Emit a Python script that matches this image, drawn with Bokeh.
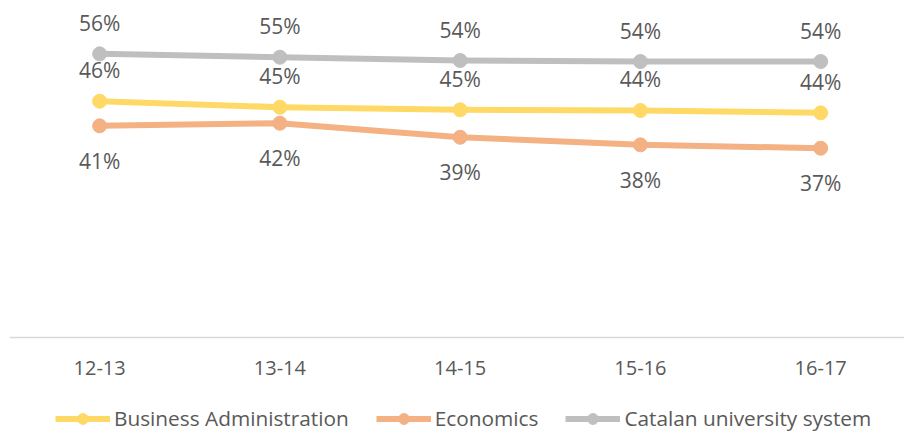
from bokeh.plotting import figure
from bokeh.models import Range1d, FixedTicker, Legend, ColumnDataSource
from bokeh.embed import file_html
from bokeh.resources import INLINE

categories = ["12-13", "13-14", "14-15", "15-16", "16-17"]
business_admin = [46.28, 45.10, 44.59, 44.46, 44.00]
economics = [41.45, 41.96, 39.21, 37.72, 37.06]
catalan_system = [55.58, 54.92, 54.27, 54.07, 54.07]

series = [
    ("Business Administration", business_admin, "#FFD966", 31, "above"),
    ("Economics", economics, "#F4B183", 35, "below"),
    ("Catalan university system", catalan_system, "#BFBFBF", 31, "above"),
]

FONT = "Open Sans"
TXT = "#595959"

xs = list(range(len(categories)))

p = figure(width=904, height=432, output_backend="svg", toolbar_location=None,
           x_range=Range1d(-0.5, 4.465), y_range=Range1d(-18.74, 66.05),
           min_border_left=9, min_border_right=0, min_border_top=0, min_border_bottom=0)
p.outline_line_color = None
p.xgrid.visible = False
p.ygrid.visible = False
p.yaxis.visible = False
p.background_fill_color = "white"
p.border_fill_color = "white"

xa = p.xaxis[0]
xa.fixed_location = 0
xa.ticker = FixedTicker(ticks=xs)
xa.major_label_overrides = {i: c for i, c in enumerate(categories)}
xa.axis_line_color = "#D9D9D9"
xa.axis_line_width = 1.5
xa.major_tick_line_color = None
xa.minor_tick_line_color = None
xa.major_label_text_font = FONT
xa.major_label_text_font_size = "20px"
xa.major_label_text_color = TXT
xa.major_label_standoff = 18

legend_items = []
for name, vals, color, off, pos in series:
    src = ColumnDataSource(dict(x=xs, y=vals, lab=["%d%%" % round(v) for v in vals]))
    r1 = p.line("x", "y", source=src, line_color=color, line_width=6, line_join="round")
    r2 = p.scatter("x", "y", source=src, size=14, fill_color=color, line_color=color)
    p.text("x", "y", text="lab", source=src, text_align="center", text_baseline="middle",
           y_offset=(-off if pos == "above" else off), text_font_size="21px",
           text_color=TXT, text_font={"value": FONT})
    legend_items.append((name, [r1, r2]))

legend = Legend(items=legend_items, orientation="horizontal", location=(46, 0),
                label_text_font=FONT, label_text_font_size="20.8px", label_text_color=TXT,
                glyph_width=55, glyph_height=27, spacing=27, label_standoff=4,
                padding=0, margin=0, border_line_color=None, background_fill_alpha=0)
p.add_layout(legend)

open("out.html", "w").write(file_html(p, INLINE))
